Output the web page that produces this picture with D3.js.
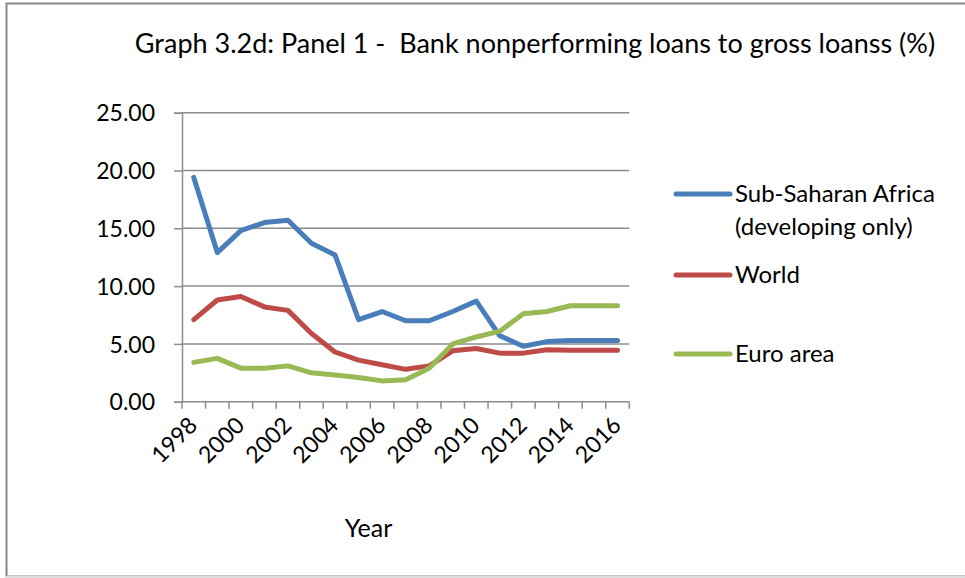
<!DOCTYPE html>
<html>
<head>
<meta charset="utf-8">
<script src="https://cdn.jsdelivr.net/npm/d3@7"></script>
<style>
  html, body { margin: 0; padding: 0; background: #fff; }
  svg { display: block; }
  text { font-family: Lato, "Open Sans", sans-serif; fill: #000; }
</style>
</head>
<body>
<script>
// Bank nonperforming loans to gross loans (%), 1998-2016
const years = d3.range(1998, 2017).map(String);
const tickYears = ["1998","2000","2002","2004","2006","2008","2010","2012","2014","2016"];
const yTicks = [0, 5, 10, 15, 20, 25];

const ssaValues = [19.4, 12.9, 14.8, 15.5, 15.7, 13.7, 12.7, 7.1, 7.8, 7.0, 7.0, 7.8, 8.7, 5.7, 4.8, 5.2, 5.3, 5.3, 5.3];
const worldValues = [7.1, 8.8, 9.1, 8.2, 7.9, 5.9, 4.3, 3.6, 3.2, 2.8, 3.1, 4.4, 4.6, 4.2, 4.2, 4.5, 4.45, 4.45, 4.45];
const euroValues = [3.4, 3.75, 2.9, 2.9, 3.1, 2.5, 2.3, 2.1, 1.8, 1.9, 2.9, 5.0, 5.6, 6.1, 7.6, 7.8, 8.3, 8.3, 8.3];

const seriesNames = ["Sub-Saharan Africa\n(developing only)", "World", "Euro area"];
const seriesColors = ["#4a7ebb", "#be4b48", "#98b954"];
const seriesValues = [ssaValues, worldValues, euroValues];

const W = 965, H = 578;
const plot = { left: 182, right: 629.3, top: 112.7, bottom: 401.7 };

const svg = d3.select("body").append("svg").attr("width", W).attr("height", H);

// chart frame
svg.append("rect").attr("x", 6.5).attr("y", 3.5).attr("width", W + 10).attr("height", H - 5)
  .attr("fill", "none").attr("stroke", "#888").attr("stroke-width", 2);
svg.append("line").attr("x1", 6).attr("x2", W).attr("y1", H - 1).attr("y2", H - 1)
  .attr("stroke", "#ddd").attr("stroke-width", 2);

const x = d3.scaleBand().domain(years).range([plot.left, plot.right]).padding(0);
const y = d3.scaleLinear().domain([0, 25]).range([plot.bottom, plot.top]);

// horizontal gridlines
svg.append("g").selectAll("line").data(yTicks.filter(d => d > 0)).join("line")
  .attr("x1", plot.left).attr("x2", plot.right)
  .attr("y1", d => y(d)).attr("y2", d => y(d))
  .attr("stroke", "#8c8c8c").attr("stroke-width", 1.5);

// y axis
const yAxis = svg.append("g").attr("transform", `translate(${plot.left},0)`)
  .call(d3.axisLeft(y).tickValues(yTicks).tickFormat(d3.format(".2f")).tickSize(8).tickPadding(19));
yAxis.select(".domain").attr("stroke", "#8c8c8c").attr("stroke-width", 1.5);
yAxis.selectAll(".tick line").attr("stroke", "#8c8c8c").attr("stroke-width", 1.5);
yAxis.selectAll(".tick text").style("font-size", "23px").attr("dy", "0.36em");

// x axis: category boundaries ticked, labels every second year
const xAxisG = svg.append("g").attr("transform", `translate(0,${plot.bottom})`);
xAxisG.append("line").attr("x1", plot.left).attr("x2", plot.right)
  .attr("stroke", "#8c8c8c").attr("stroke-width", 1.5);
const bounds = years.map(d => x(d)).concat([plot.right]);
xAxisG.selectAll("line.tk").data(bounds).join("line").attr("class", "tk")
  .attr("x1", d => d).attr("x2", d => d).attr("y1", 0).attr("y2", 7)
  .attr("stroke", "#8c8c8c").attr("stroke-width", 1.5);
xAxisG.selectAll("text").data(tickYears).join("text")
  .attr("transform", d => `translate(${x(d) + x.bandwidth() / 2 + 5},${25}) rotate(-45)`)
  .attr("text-anchor", "end")
  .style("font-size", "23px")
  .text(d => d);

// series lines
const line = d3.line().x((d, i) => x(years[i]) + x.bandwidth() / 2).y(d => y(d));
svg.append("g").selectAll("path").data(seriesValues).join("path")
  .attr("d", d => line(d))
  .attr("fill", "none")
  .attr("stroke", (d, i) => seriesColors[i])
  .attr("stroke-width", 5)
  .attr("stroke-linejoin", "round")
  .attr("stroke-linecap", "round");

// legend
const legendY = [194, 275, 354];
const legend = svg.append("g");
seriesNames.forEach((name, i) => {
  legend.append("line").attr("x1", 676).attr("x2", 730)
    .attr("y1", legendY[i]).attr("y2", legendY[i])
    .attr("stroke", seriesColors[i]).attr("stroke-width", 5).attr("stroke-linecap", "round");
  const t = legend.append("text").attr("x", 735).attr("y", legendY[i] + 8).style("font-size", "24px");
  name.split("\n").forEach((ln, j) => {
    t.append("tspan").attr("x", 735).attr("dy", j === 0 ? 0 : 33).text(ln);
  });
});

// titles
svg.append("text").attr("x", 535).attr("y", 53).attr("text-anchor", "middle")
  .style("font-size", "27px")
  .attr("xml:space", "preserve").style("white-space", "pre")
  .text("Graph 3.2d: Panel 1 -  Bank nonperforming loans to gross loanss (%)");
svg.append("text").attr("x", 368.5).attr("y", 537).attr("text-anchor", "middle")
  .style("font-size", "25px").text("Year");
</script>
</body>
</html>
